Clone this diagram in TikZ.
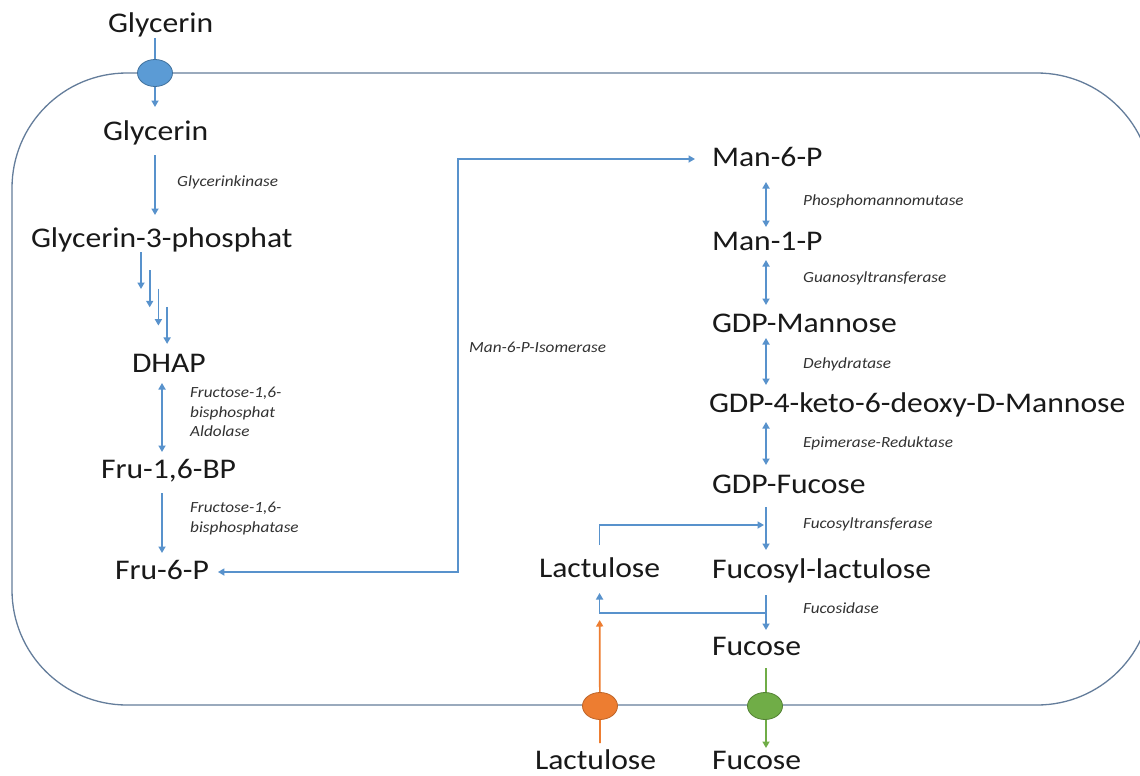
\documentclass[tikz,border=0pt]{standalone}
\usepackage{fontspec}
\setmainfont{Carlito}[FakeStretch=1.11]
\usetikzlibrary{arrows.meta,shapes.geometric,calc}
\definecolor{arrblue}{RGB}{88,146,204}
\definecolor{memb}{RGB}{100,125,155}
\definecolor{txt}{RGB}{25,25,25}
\definecolor{enzc}{RGB}{50,50,50}
\definecolor{bfill}{RGB}{91,155,213}
\definecolor{bdraw}{RGB}{65,113,156}
\definecolor{ofill}{RGB}{237,125,49}
\definecolor{odraw}{RGB}{190,100,40}
\definecolor{gfill}{RGB}{112,173,71}
\definecolor{gdraw}{RGB}{84,130,53}
\begin{document}
\begin{tikzpicture}[x=1pt,y=-1pt,
  mol/.style={anchor=base west, inner sep=0pt, outer sep=0pt, text height=21pt, text depth=7pt, font=\fontsize{28.5}{32}\selectfont, text=txt},
  enz/.style={anchor=base west, inner sep=0pt, font=\fontsize{15.5}{19.5}\selectfont\itshape, text=enzc},
  tipb/.tip={Triangle[length=6.5pt,width=7pt]},
  arr/.style={draw=arrblue, line width=1.7pt, -tipb},
  darr/.style={draw=arrblue, line width=1.7pt, tipb-tipb},
  gap/.style 2 args={shorten <=#1, shorten >=#2},
  porter/.style={ellipse, minimum width=35pt, minimum height=27pt, inner sep=0pt, line width=0.8pt}
]
\useasboundingbox (0,0) rectangle (1140,776);
\fill[white] (0,0) rectangle (1140,776);

% cell membrane
\draw[memb, line width=1.3pt, rounded corners=115pt] (12,73) rectangle (1152,705);

% column guides
\coordinate (colL) at (155,0);
\coordinate (colM) at (162,0);
\coordinate (colR) at (766,0);
\coordinate (iso) at (458,0);
\coordinate (st) at (141,252);
\coordinate (ftr) at (764,525);
\coordinate (fsd) at (767,613);
\coordinate (oStart) at (600,743);

% molecules
\node[mol] (glyOut) at (108,33) {Glycerin};
\node[mol] (glyIn) at (103,140) {Glycerin};
\node[mol] (g3p) at (31,247) {Glycerin-3-phosphat};
\node[mol] (dhap) at (132,372) {DHAP};
\node[mol] (fru16) at (101,478) {Fru-1,6-BP};
\node[mol] (fru6) at (115,579) {Fru-6-P};
\node[mol] (man6) at (712,166) {Man-6-P};
\node[mol] (man1) at (712,250) {Man-1-P};
\node[mol] (gdpman) at (712,332) {GDP-Mannose};
\node[mol] (gdp4k) at (709,412) {GDP-4-keto-6-deoxy-D-Mannose};
\node[mol] (gdpfuc) at (712,493) {GDP-Fucose};
\node[mol] (fucolac) at (712,578) {Fucosyl-lactulose};
\node[mol] (fuc) at (712,655) {Fucose};
\node[mol] (lac) at (539,577) {Lactulose};
\node[mol, text depth=1pt] (lacOut) at (535,769) {Lactulose};
\node[mol, text depth=1pt] (fucOut) at (712,769) {Fucose};

% enzymes
\node[enz] (e1) at (177,186) {Glycerinkinase};
\node[enz, anchor=north west, align=left] (e2) at (190,387) {Fructose-1,6-\\bisphosphat\\Aldolase};
\node[enz, anchor=north west, align=left] (e3) at (190,502) {Fructose-1,6-\\bisphosphatase};
\node[enz] (e4) at (469,352) {Man-6-P-Isomerase};
\node[enz] (e5) at (803,205) {Phosphomannomutase};
\node[enz] (e6) at (803,282) {Guanosyltransferase};
\node[enz] (e7) at (803,368) {Dehydratase};
\node[enz] (e8) at (803,447) {Epimerase-Reduktase};
\node[enz] (e9) at (803,528) {Fucosyltransferase};
\node[enz] (e10) at (803,613) {Fucosidase};

% left column
\draw[arr, gap={-2pt}{12pt}] (glyOut.south -| colL) -- (glyIn.north -| colL);
\draw[arr, gap={8pt}{11pt}] (glyIn.south -| colL) -- (g3p.north -| colL);
\foreach \i in {0,1,2,3}
  \draw[arr] ($(st)+(8.7*\i,18.3*\i)$) -- ++(0,37);
\draw[darr, gap={4pt}{5pt}] (dhap.south -| colM) -- (fru16.north -| colM);
\draw[arr, gap={8pt}{5pt}] (fru16.south -| colM) -- (fru6.north -| colM);

% isomerase connection
\draw[darr, gap={9pt}{17pt}] (fru6.east) -- (fru6.east -| iso) |- (man6.west);

% right column
\draw[darr, gap={9pt}{2pt}] (man6.south -| colR) -- (man1.north -| colR);
\draw[darr, gap={3pt}{6pt}] (man1.south -| colR) -- (gdpman.north -| colR);
\draw[darr, gap={-1pt}{6pt}] (gdpman.south -| colR) -- (gdp4k.north -| colR);
\draw[darr, gap={3pt}{7pt}] (gdp4k.south -| colR) -- (gdpfuc.north -| colR);
\draw[arr, gap={7pt}{7pt}] (gdpfuc.south -| colR) -- (fucolac.north -| colR);
\draw[arr, gap={10pt}{4pt}] (fucolac.south -| colR) -- (fuc.north -| colR);

% lactulose branches
\draw[arr, shorten <=11pt] (lac.north) |- (ftr);
\draw[arr, shorten >=9pt] (fsd) -| (lac.south);

% transport arrows
\draw[draw=ofill, line width=1.7pt, -tipb, shorten >=36pt] (oStart) -- (lac.south);
\draw[draw=gfill, line width=1.7pt, -tipb, gap={6pt}{0pt}] (fuc.south -| colR) -- (fucOut.north -| colR);

% transporters
\node[porter, fill=bfill, draw=bdraw] (tG) at (155,73) {};
\node[porter, fill=ofill, draw=odraw] (tL) at (600,706) {};
\node[porter, fill=gfill, draw=gdraw] (tF) at (765,706) {};
\end{tikzpicture}
\end{document}
